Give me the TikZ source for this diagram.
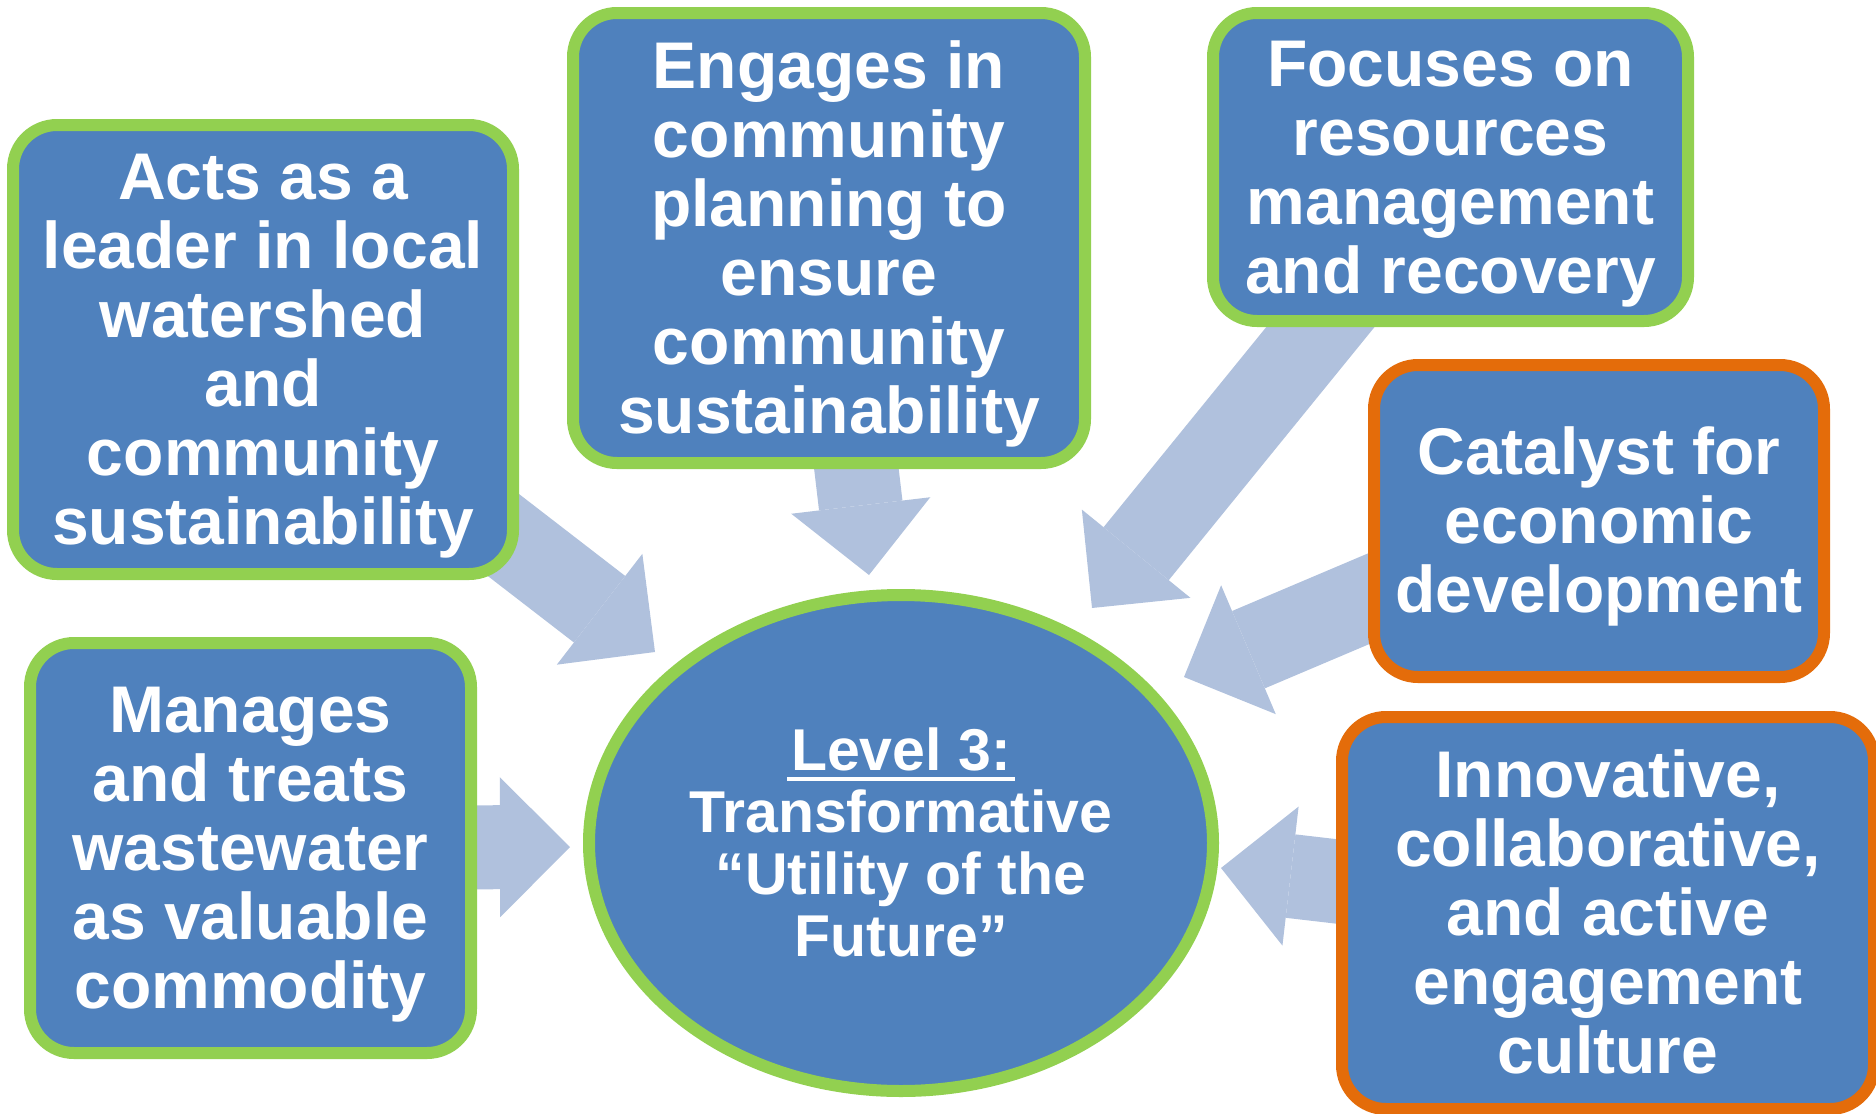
\documentclass[tikz,border=0pt]{standalone}
\usepackage{fontspec}
\setmainfont{Liberation Sans}
\usetikzlibrary{arrows.meta,backgrounds,shapes.geometric}
\definecolor{boxblue}{RGB}{79,129,189}
\definecolor{lgreen}{RGB}{146,208,80}
\definecolor{orng}{RGB}{228,108,10}
\definecolor{arrowblue}{RGB}{176,193,221}
\newcommand\thickul[1]{\setbox0\hbox{#1}\rlap{\kern-2pt\rule[-5.5pt]{\dimexpr\wd0+4pt\relax}{2pt}}\box0}
\newcommand\topst{\vrule width0pt height0.905em depth0pt\relax}
\newcommand\botst{\vrule width0pt height0pt depth0.212em\relax}
\begin{document}
\begin{tikzpicture}[x=0.5pt,y=-0.5pt,
  box/.style={rectangle, rounded corners=22pt, fill=boxblue, line width=6pt, inner sep=0pt,
    align=center, text=white, font=\fontsize{33}{34.5}\selectfont\bfseries},
  gbox/.style={box, draw=lgreen},
  obox/.style={box, draw=orng},
  fat/.style={draw=arrowblue, line width=42pt, line cap=butt,
    -{Triangle[width=70pt,length=35pt,line width=0pt]}}]
\useasboundingbox (0,0) rectangle (1876,1114);
% arrow tips
\coordinate (tA) at (655,652);
\coordinate (tB) at (869,575);
\coordinate (tC) at (1092,608);
\coordinate (tD) at (1184,677);
\coordinate (tE) at (1221,868);
\coordinate (tF) at (570,847);
\coordinate (sD) at (1552,521);
% boxes
\node[gbox, minimum width=250pt, minimum height=224.5pt] (A) at (263,349.5)
  {\topst Acts as a\\leader in local\\watershed\\and\\community\\sustainability\botst};
\node[gbox, minimum width=256pt, minimum height=225pt] (B) at (829,238)
  {\topst Engages in\\community\\planning to\\ensure\\community\\sustainability\botst};
\node[gbox, minimum width=237.5pt, minimum height=154pt] (C) at (1450.5,167)
  {\topst Focuses on\\resources\\management\\and recovery\botst};
\node[obox, minimum width=225pt, minimum height=156pt] (D) at (1599,521)
  {\topst Catalyst for\\economic\\development\botst};
\node[obox, minimum width=266pt, minimum height=196pt] (E) at (1608,913)
  {\topst Innovative,\\collaborative,\\and active\\engagement\\culture\botst};
\node[gbox, minimum width=220.5pt, minimum height=205pt] (F) at (250.5,848)
  {\topst Manages\\and treats\\wastewater\\as valuable\\commodity\botst};
\node[ellipse, draw=lgreen, fill=boxblue, line width=6pt, inner sep=0pt,
  minimum width=312pt, minimum height=248pt, align=center, text=white,
  font=\fontsize{29.5}{31}\selectfont\bfseries] (L3) at (901,843)
  {\topst\thickul{Level 3:}\\Transformative\\“Utility of the\\Future”\botst};
% arrows behind
\begin{scope}[on background layer]
\draw[fat] (A.center) -- (tA);
\draw[fat] (B.center) -- (tB);
\draw[fat] (C.center) -- (tC);
\draw[fat] (sD) -- (tD);
\draw[fat] (E.center) -- (tE);
\draw[fat] (F.center) -- (tF);
\end{scope}
\end{tikzpicture}
\end{document}
